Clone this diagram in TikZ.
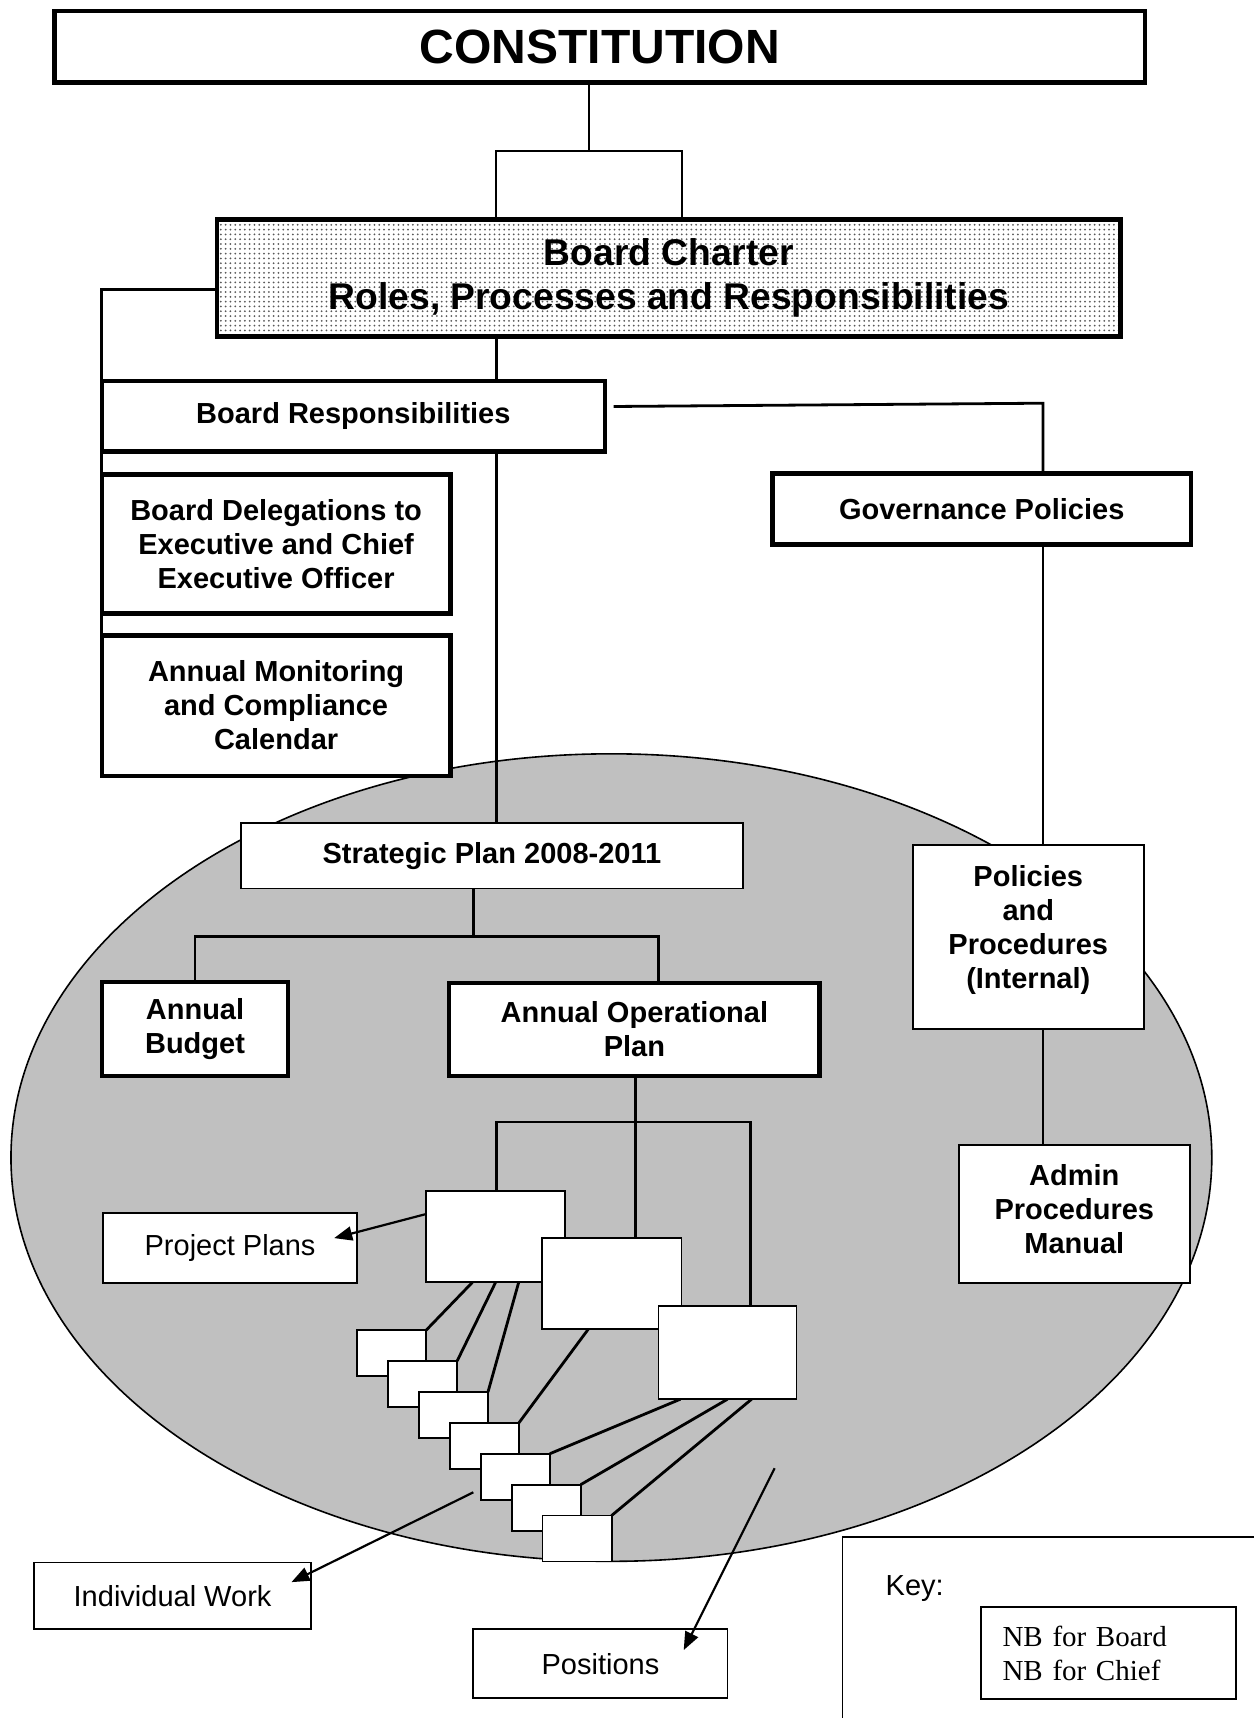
\documentclass[tikz,border=0pt]{standalone}
\usepackage{fontspec}
\setmainfont{Liberation Sans}
\newfontfamily\serifkey{Liberation Serif}
\usetikzlibrary{arrows.meta, patterns}
\newcommand{\pxu}{0.5477pt}
\definecolor{oval}{HTML}{C0C0C0}
\pgfdeclarepatternformonly{finedots}{\pgfqpoint{-1pt}{-1pt}}{\pgfqpoint{1pt}{1pt}}{\pgfqpoint{2.4pt}{2.4pt}}{%
  \pgfpathcircle{\pgfqpoint{0pt}{0pt}}{0.5pt}\pgfusepath{fill}}
\pgfdeclarelayer{ovallayer}
\pgfdeclarelayer{linklayer}
\pgfsetlayers{ovallayer,linklayer,main}

\begin{document}
\begin{tikzpicture}[x=\pxu, y=-\pxu,
    sz/.style 2 args={minimum width=#1*\pxu, minimum height=#2*\pxu},
    heavybox/.style={rectangle, draw, line width=2.2pt, fill=white, inner sep=0pt,
      outer sep=0pt, align=center, font=\fontsize{14.5}{17}\selectfont\bfseries},
    charterbox/.style={heavybox, preaction={fill=white}, pattern=finedots,
      pattern color=black!65, line width=2.4pt, font=\fontsize{18.6}{22}\selectfont\bfseries},
    plainbox/.style={rectangle, draw, line width=0.9pt, fill=white, inner sep=0pt,
      outer sep=0pt, align=center, font=\fontsize{14.5}{17}\selectfont},
    boldplain/.style={plainbox, font=\fontsize{14.5}{17}\selectfont\bfseries},
    blankbox/.style={rectangle, draw, line width=0.9pt, fill=white, inner sep=0pt, outer sep=0pt},
    link/.style={line width=1.4pt},
    thinlink/.style={line width=1pt},
    arr/.style={-{Triangle[length=9pt, width=7pt]}, line width=1.1pt},
  ]
  \useasboundingbox (0,0) rectangle (1144,1568);
  % the grey oval behind the planning levels
  \begin{pgfonlayer}{ovallayer}
    \draw[fill=oval, line width=0.8pt] (558,1056.5) ellipse [x radius=548, y radius=368.5];
  \end{pgfonlayer}

  % junction points
  \coordinate (brk) at (538,138);
  \coordinate (brkL) at (453,138);
  \coordinate (brkR) at (622,138);
  \coordinate (spine) at (453,330);
  \coordinate (rj) at (952,368);
  \coordinate (sj) at (432,855);
  \coordinate (sR) at (601,855);
  \coordinate (oj) at (580,1024);
  \coordinate (oL) at (453,1024);
  \coordinate (oR) at (685,1024);
  \coordinate (iwStart) at (432,1362);
  \coordinate (posStart) at (707,1340);

  % governance boxes
  \node[heavybox, sz={995}{65}, line width=2.4pt, font=\fontsize{24}{28}\selectfont\bfseries]
    (const) at (547.5,42.5) {CONSTITUTION};
  \node[charterbox, sz={825}{107}] (charter) at (610.5,253.5)
    {Board Charter\\Roles, Processes and Responsibilities};
  \node[heavybox, sz={459}{64}] (resp) at (322.5,380) {Board Responsibilities};
  \node[heavybox, sz={318}{127}] (deleg) at (252,496.5)
    {Board Delegations to\\Executive and Chief\\Executive Officer};
  \node[heavybox, sz={318}{128}] (monit) at (252,644)
    {Annual Monitoring\\and Compliance\\Calendar};
  \node[heavybox, sz={382}{65}] (gov) at (896,464.5) {Governance Policies};

  % planning boxes
  \node[boldplain, sz={458}{60}] (strat) at (449,781) {Strategic Plan 2008-2011};
  \node[heavybox, sz={170}{86}] (budget) at (178,939) {Annual\\Budget};
  \node[heavybox, sz={338}{85}] (opplan) at (579,939.5) {Annual Operational\\Plan};
  \node[boldplain, sz={211}{168}, text depth=9.6pt] (policies) at (938.5,855)
    {Policies\\and\\Procedures\\(Internal)};
  \node[boldplain, sz={211}{126}, text depth=5.5pt] (admin) at (980.5,1108)
    {Admin\\Procedures\\Manual};

  % project boxes and their work items
  \node[blankbox, sz={127}{83}] (p1) at (452.5,1128.5) {};
  \node[blankbox, sz={127}{83}] (p2) at (558.5,1171.5) {};
  \node[blankbox, sz={126}{85}] (p3) at (664,1234.5) {};
  \foreach \i in {1,...,7}
    \node[blankbox, sz={63}{42}] (t\i) at ({357.5+28.2*(\i-1)}, {1235+28.2*(\i-1)}) {};

  % outside labels
  \node[plainbox, sz={232}{64}] (projplans) at (210,1139) {Project Plans};
  \node[plainbox, sz={253}{61}] (indiv) at (157.5,1456.5) {Individual Work};
  \node[plainbox, sz={232}{63}] (positions) at (548,1518.5) {Positions};

  % connectors
  \begin{pgfonlayer}{linklayer}
    \draw[thinlink] (brk |- const.south) -- (brk);
    \draw[thinlink] (brkL |- charter.north) -- (brkL) -- (brkR) -- (brkR |- charter.north);
    \draw[link] ([shift={(0,10.5)}]charter.west) -| (monit.north west);
    \draw[link] (spine |- charter.south) -- (spine |- strat.north);
    \draw[link] ([shift={(8,-9)}]resp.east) -- (rj) -- (rj |- gov.north);
    \draw[link] (rj |- gov.south) -- (rj |- policies.north);
    \draw[link] (rj |- policies.south) -- (rj |- admin.north);
    \draw[link] (sj |- strat.south) -- (sj);
    \draw[link] (budget.north) |- (sR) -- (sR |- opplan.north);
    \draw[link] (oj |- opplan.south) -- (oj |- p2.north);
    \draw[link] (oL |- p1.north) -- (oL) -- (oR) -- (oR |- p3.north);
    \foreach \i/\dx in {1/-21, 2/0, 3/21}
      \draw[link] ([shift={(\dx,0)}]p1.south) -- (t\i.north east);
    \draw[link] ([shift={(-21.5,0)}]p2.south) -- (t4.north east);
    \foreach \i/\dx in {5/-43, 6/0, 7/22}
      \draw[link] ([shift={(\dx,0)}]p3.south) -- (t\i.north east);
  \end{pgfonlayer}
  \draw[arr] ([shift={(0,-20.5)}]p1.west) -- ([shift={(-21,-9)}]projplans.east);
  \draw[arr] (iwStart) -- ([shift={(-18,-12.5)}]indiv.east);
  \draw[arr] (posStart) -- ([shift={(-40,-12.5)}]positions.east);

  % key
  \node[plainbox, sz={500}{300}, anchor=north west] (key) at (769,1403) {};
  \node[anchor=west, inner sep=0pt, font=\fontsize{14.5}{17}\selectfont] (keylab) at (808,1450) {Key:};
  \node[plainbox, sz={233}{84}, align=left, text width=105.7pt,
    font=\serifkey\fontsize{14.5}{17}\selectfont] (nb) at (1011.5,1509)
    {NB for Board\\NB for Chief};
\end{tikzpicture}
\end{document}
